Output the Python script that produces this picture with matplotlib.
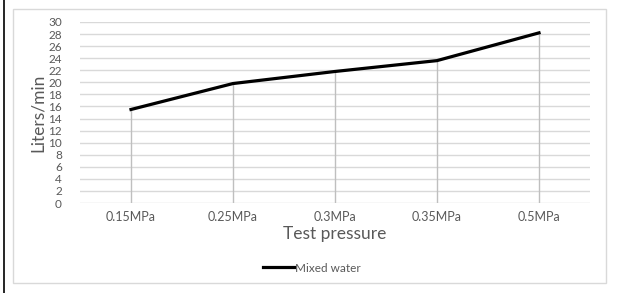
import matplotlib.pyplot as plt
from matplotlib.patches import Rectangle
from matplotlib.lines import Line2D

pressures = ["0.15MPa", "0.25MPa", "0.3MPa", "0.35MPa", "0.5MPa"]
flow = [15.5, 19.8, 21.8, 23.6, 28.2]
yticks = list(range(0, 31, 2))

plt.rcParams['font.family'] = ['Lato', 'DejaVu Sans']
txt = "#595959"

fig = plt.figure(figsize=(6.17, 2.93), dpi=100)

# outer frame lines
fig.add_artist(Line2D([3.5 / 617, 3.5 / 617], [0, 1], color="black", lw=1.2))
fig.add_artist(Rectangle((13 / 617, 10 / 293), 593 / 617, 274 / 293,
                         fill=False, ec="#d9d9d9", lw=1))

ax = fig.add_axes([80 / 617, 90 / 293, 510 / 617, 181 / 293])
x = list(range(len(pressures)))
ax.set_xlim(-0.5, len(pressures) - 0.5)
ax.set_ylim(0, 30)
ax.set_yticks(yticks)
for t in yticks:
    ax.axhline(t, color="#d9d9d9", lw=1, zorder=0)
ax.vlines(x, 0, flow, color="#bfbfbf", lw=1, zorder=1)
ax.plot(x, flow, color="black", lw=2.3, zorder=3, label="Mixed water")

ax.set_xticks(x)
ax.set_xticklabels(pressures)
for s in ax.spines.values():
    s.set_visible(False)
ax.tick_params(length=0, colors=txt, labelsize=9, pad=6)
ax.tick_params(axis="y", labelsize=8.5, pad=13)

ax.set_xlabel("Test pressure", color=txt, fontsize=12.5, labelpad=2)
ax.set_ylabel("Liters/min", color=txt, fontsize=12.5, labelpad=2)

leg = fig.legend(loc="center", bbox_to_anchor=(312 / 617, 1 - 268 / 293), frameon=False,
                 fontsize=8.5, handlelength=2.6, handletextpad=0.1)
for t in leg.get_texts():
    t.set_color(txt)

fig.savefig("out.png", dpi=100)
